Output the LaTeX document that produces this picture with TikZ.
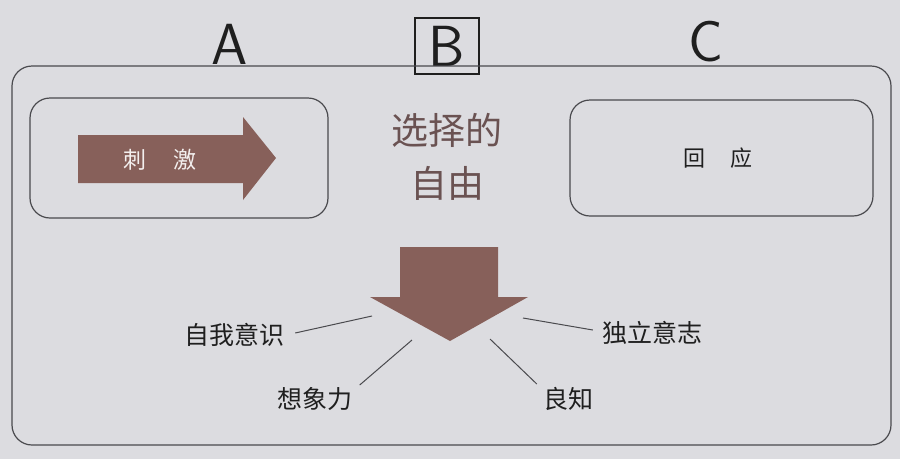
\documentclass[tikz,border=0pt]{standalone}
\usepackage{fontspec}
\newfontfamily\cjk{Noto Sans CJK SC}
\definecolor{paper}{HTML}{DCDCE0}
\definecolor{brownarrow}{HTML}{87605A}
\definecolor{titletext}{HTML}{6A5252}
\definecolor{frame}{HTML}{4A4A4E}
\tikzset{
  panel/.style={draw=frame, line width=1.2pt, rounded corners=20pt},
  label/.style={font=\cjk\fontsize{25}{28}\selectfont, text=black!88, inner sep=1pt},
  spoke/.style={draw=frame, line width=1pt},
  handtext/.style={font=\sffamily\fontsize{58}{60}\selectfont, text=black!88, inner sep=2pt},
}
\begin{document}
\begin{tikzpicture}[x=1pt,y=-1pt]
\fill[paper] (0,0) rectangle (900,459);
\useasboundingbox (0,0) rectangle (900,459);

% handwritten annotations
\node[handtext] (hA) at (230,44) {A};
\node[handtext, draw=black!88, line width=1.6pt, minimum width=64pt, minimum height=56pt, inner sep=0pt] (hB) at (447,46) {B};
\node[handtext] (hC) at (706,42) {C};

% outer frame
\draw[panel] (12,66) rectangle (891,445);

% left box with stimulus arrow
\draw[panel] (30,98) rectangle (328,218);
\fill[brownarrow] (78,135) -- (243,135) -- (243,117) -- (276,158) -- (243,200) -- (243,183) -- (78,183) -- cycle;
\node[font=\cjk\fontsize{23}{24}\selectfont, text=white!90!brownarrow] (stim) at (160,160) {刺\hspace{1.2em}激};

% right box
\draw[panel] (570,100) rectangle (873,216);
\node[font=\cjk\fontsize{22}{24}\selectfont, text=black!88] (resp) at (718,158) {回\hspace{1.1em}应};

% middle title
\node[font=\cjk\fontsize{37}{53}\selectfont, text=titletext, align=center] (title) at (447,157) {选择的\\自由};

% down arrow
\fill[brownarrow] (400,247) -- (498,247) -- (498,297) -- (528,297) -- (450,341) -- (370,297) -- (400,297) -- cycle;
\coordinate (aw) at (372,316);
\coordinate (asw) at (412,340);
\coordinate (ase) at (490,339);
\coordinate (ae) at (523,318);

% labels
\node[label] (l1) at (234,335) {自我意识};
\node[label] (l2) at (315,399) {想象力};
\node[label] (l3) at (568,399) {良知};
\node[label] (l4) at (652,333) {独立意志};

\draw[spoke] (l1.east) ++(10,-2) coordinate (l1e) -- (aw);
\draw[spoke] (l2.east) ++(6,-14) coordinate (l2e) -- (asw);
\draw[spoke] (l3.west) ++(-5,-15) coordinate (l3w) -- (ase);
\draw[spoke] (l4.west) ++(-8,-3) coordinate (l4w) -- (ae);
\end{tikzpicture}
\end{document}
